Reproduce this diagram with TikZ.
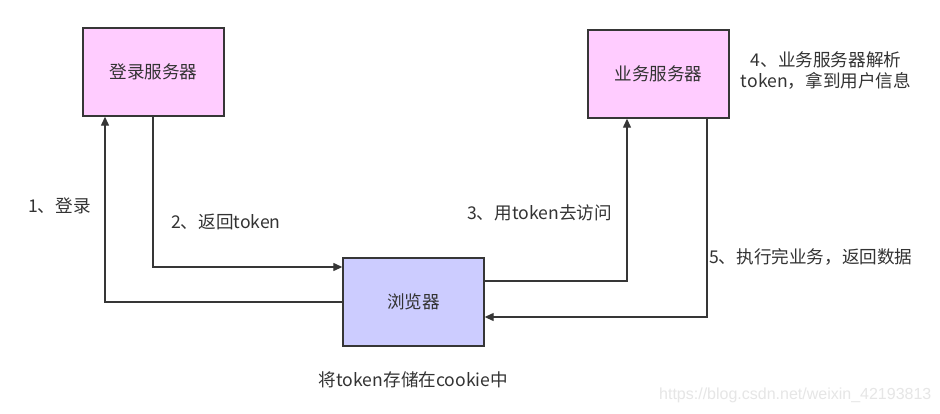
\documentclass[tikz,border=0pt]{standalone}
\usepackage{fontspec}
\setmainfont{Noto Sans CJK SC}
\newfontfamily\wmfont{Liberation Sans}
\usetikzlibrary{arrows.meta}
\definecolor{pinkfill}{HTML}{FFCCFF}
\definecolor{bluefill}{HTML}{CCCCFF}
\definecolor{linec}{HTML}{363636}
\definecolor{textc}{HTML}{333333}
\definecolor{wmc}{HTML}{E6E6E6}
\tikzset{
  boxnode/.style={draw=linec, line width=1.4pt, minimum width=141pt, minimum height=88pt, inner sep=0pt, text=textc, font=\fontsize{17.6}{20}\selectfont},
  conn/.style={draw=linec, line width=1.3pt, -{Triangle[length=9pt,width=8pt]}},
  lbl/.style={text=textc, font=\fontsize{17.6}{21}\selectfont, inner sep=0pt},
}
\begin{document}
\begin{tikzpicture}[x=1pt,y=-1pt]
\useasboundingbox (0,0) rectangle (940,413);
\fill[white] (0,0) rectangle (940,413);
\node[boxnode, fill=pinkfill] (login) at (153.5,72) {登录服务器};
\node[boxnode, fill=pinkfill] (biz) at (658.5,74) {业务服务器};
\node[boxnode, fill=bluefill] (browser) at (413.5,302) {浏览器};
% 1
\coordinate (c1) at (105,302);
\draw[conn] (browser.west |- c1) -- (c1) -- (c1 |- login.south);
% 2
\coordinate (c2) at (153,267);
\draw[conn] (login.south -| c2) -- (c2) -- (browser.west |- c2);
% 3
\coordinate (c3) at (627,281);
\draw[conn] ([xshift=-1pt]browser.east |- c3) -- (c3) -- (c3 |- biz.south);
% 5
\coordinate (c5) at (707,317);
\draw[conn] (biz.south -| c5) -- (c5) -- (browser.east |- c5);
% labels
\node[lbl, anchor=west] (l1) at (28,206) {1、登录};
\node[lbl, anchor=west] (l2) at (171,222) {2、返回token};
\node[lbl, anchor=west] (l3) at (467,213) {3、用token去访问};
\node[lbl, align=center] (l4) at (826,70.5) {4、业务服务器解析\\token，拿到用户信息};
\node[lbl, anchor=west] (l5) at (709,257) {5、执行完业务，返回数据};
\node[lbl] (l6) at (413.5,380) {将token存储在cookie中};
\node[text=wmc, font=\wmfont\fontsize{16}{18}\selectfont, inner sep=0pt, anchor=west] (wm) at (659,395) {https://blog.csdn.net/weixin\_42193813};
\end{tikzpicture}
\end{document}
